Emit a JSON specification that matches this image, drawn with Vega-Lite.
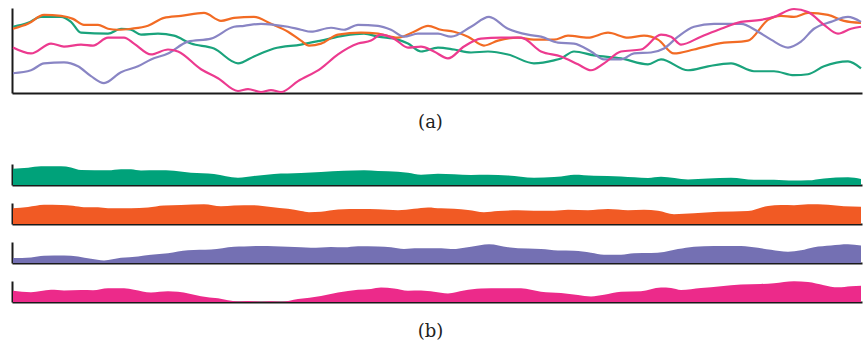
{
  "$schema": "https://vega.github.io/schema/vega-lite/v6.json",
  "padding": {"left": 8, "top": 4, "right": 9, "bottom": 0},
  "background": "white",
  "config": {
    "view": {"stroke": null},
    "axis": {"grid": false, "labels": false, "ticks": false, "domainColor": "#1a1a1a", "domainWidth": 2,
      "titleFont": "DejaVu Serif", "titleFontSize": 18, "titleFontWeight": "normal", "titleColor": "#222", "titlePadding": 20}
  },
  "datasets": {
    "d": [
      {"s":"s1","t":1,"v":67},{"s":"s1","t":16,"v":71},{"s":"s1","t":29,"v":77},{"s":"s1","t":49,"v":77},{"s":"s1","t":59,"v":72},{"s":"s1","t":69,"v":61},{"s":"s1","t":96,"v":60},{"s":"s1","t":109,"v":65},{"s":"s1","t":119,"v":64},{"s":"s1","t":129,"v":59},{"s":"s1","t":146,"v":60},{"s":"s1","t":162,"v":58},{"s":"s1","t":179,"v":50},{"s":"s1","t":202,"v":45},{"s":"s1","t":226,"v":30},{"s":"s1","t":242,"v":37},{"s":"s1","t":262,"v":45},{"s":"s1","t":289,"v":49},{"s":"s1","t":309,"v":53},{"s":"s1","t":332,"v":58},{"s":"s1","t":352,"v":60},{"s":"s1","t":366,"v":57},{"s":"s1","t":386,"v":54},{"s":"s1","t":396,"v":50},{"s":"s1","t":409,"v":42},{"s":"s1","t":426,"v":46},{"s":"s1","t":442,"v":44},{"s":"s1","t":459,"v":41},{"s":"s1","t":476,"v":42},{"s":"s1","t":496,"v":39},{"s":"s1","t":522,"v":30},{"s":"s1","t":542,"v":33},{"s":"s1","t":549,"v":35},{"s":"s1","t":562,"v":42},{"s":"s1","t":582,"v":38},{"s":"s1","t":609,"v":35},{"s":"s1","t":636,"v":29},{"s":"s1","t":649,"v":34},{"s":"s1","t":676,"v":23},{"s":"s1","t":696,"v":27},{"s":"s1","t":719,"v":30},{"s":"s1","t":742,"v":22},{"s":"s1","t":762,"v":22},{"s":"s1","t":782,"v":18},{"s":"s1","t":796,"v":19},{"s":"s1","t":812,"v":27},{"s":"s1","t":836,"v":32},{"s":"s1","t":849,"v":25},
      {"s":"s2","t":1,"v":65},{"s":"s2","t":16,"v":70},{"s":"s2","t":32,"v":79},{"s":"s2","t":49,"v":78},{"s":"s2","t":61,"v":75},{"s":"s2","t":72,"v":69},{"s":"s2","t":86,"v":69},{"s":"s2","t":96,"v":65},{"s":"s2","t":106,"v":64},{"s":"s2","t":119,"v":65},{"s":"s2","t":136,"v":68},{"s":"s2","t":152,"v":76},{"s":"s2","t":169,"v":78},{"s":"s2","t":192,"v":81},{"s":"s2","t":209,"v":73},{"s":"s2","t":222,"v":76},{"s":"s2","t":242,"v":77},{"s":"s2","t":259,"v":70},{"s":"s2","t":276,"v":62},{"s":"s2","t":289,"v":53},{"s":"s2","t":297,"v":48},{"s":"s2","t":309,"v":50},{"s":"s2","t":326,"v":59},{"s":"s2","t":349,"v":61},{"s":"s2","t":366,"v":60},{"s":"s2","t":386,"v":56},{"s":"s2","t":402,"v":62},{"s":"s2","t":416,"v":68},{"s":"s2","t":429,"v":64},{"s":"s2","t":442,"v":62},{"s":"s2","t":456,"v":57},{"s":"s2","t":472,"v":48},{"s":"s2","t":486,"v":53},{"s":"s2","t":506,"v":56},{"s":"s2","t":522,"v":54},{"s":"s2","t":542,"v":54},{"s":"s2","t":556,"v":58},{"s":"s2","t":576,"v":56},{"s":"s2","t":596,"v":61},{"s":"s2","t":616,"v":56},{"s":"s2","t":632,"v":58},{"s":"s2","t":646,"v":54},{"s":"s2","t":662,"v":40},{"s":"s2","t":682,"v":44},{"s":"s2","t":706,"v":50},{"s":"s2","t":736,"v":53},{"s":"s2","t":756,"v":74},{"s":"s2","t":769,"v":78},{"s":"s2","t":782,"v":77},{"s":"s2","t":796,"v":81},{"s":"s2","t":816,"v":79},{"s":"s2","t":832,"v":73},{"s":"s2","t":849,"v":71},
      {"s":"s3","t":1,"v":20},{"s":"s3","t":19,"v":23},{"s":"s3","t":32,"v":30},{"s":"s3","t":52,"v":31},{"s":"s3","t":66,"v":27},{"s":"s3","t":79,"v":17},{"s":"s3","t":92,"v":10},{"s":"s3","t":109,"v":21},{"s":"s3","t":126,"v":27},{"s":"s3","t":139,"v":34},{"s":"s3","t":156,"v":40},{"s":"s3","t":176,"v":52},{"s":"s3","t":199,"v":55},{"s":"s3","t":222,"v":67},{"s":"s3","t":232,"v":68},{"s":"s3","t":249,"v":70},{"s":"s3","t":262,"v":69},{"s":"s3","t":276,"v":67},{"s":"s3","t":289,"v":64},{"s":"s3","t":299,"v":62},{"s":"s3","t":319,"v":66},{"s":"s3","t":332,"v":64},{"s":"s3","t":346,"v":69},{"s":"s3","t":366,"v":68},{"s":"s3","t":379,"v":64},{"s":"s3","t":392,"v":57},{"s":"s3","t":406,"v":60},{"s":"s3","t":426,"v":60},{"s":"s3","t":439,"v":57},{"s":"s3","t":459,"v":67},{"s":"s3","t":477,"v":77},{"s":"s3","t":496,"v":65},{"s":"s3","t":516,"v":59},{"s":"s3","t":529,"v":57},{"s":"s3","t":546,"v":51},{"s":"s3","t":562,"v":50},{"s":"s3","t":579,"v":42},{"s":"s3","t":592,"v":34},{"s":"s3","t":609,"v":34},{"s":"s3","t":622,"v":40},{"s":"s3","t":639,"v":41},{"s":"s3","t":652,"v":45},{"s":"s3","t":666,"v":57},{"s":"s3","t":682,"v":67},{"s":"s3","t":702,"v":70},{"s":"s3","t":729,"v":70},{"s":"s3","t":746,"v":62},{"s":"s3","t":759,"v":54},{"s":"s3","t":776,"v":46},{"s":"s3","t":789,"v":52},{"s":"s3","t":802,"v":65},{"s":"s3","t":819,"v":72},{"s":"s3","t":836,"v":77},{"s":"s3","t":849,"v":72},
      {"s":"s4","t":1,"v":46},{"s":"s4","t":19,"v":40},{"s":"s4","t":39,"v":50},{"s":"s4","t":52,"v":47},{"s":"s4","t":69,"v":49},{"s":"s4","t":81,"v":48},{"s":"s4","t":96,"v":56},{"s":"s4","t":112,"v":56},{"s":"s4","t":122,"v":50},{"s":"s4","t":139,"v":39},{"s":"s4","t":156,"v":44},{"s":"s4","t":166,"v":42},{"s":"s4","t":189,"v":24},{"s":"s4","t":206,"v":15},{"s":"s4","t":226,"v":2},{"s":"s4","t":236,"v":4},{"s":"s4","t":249,"v":1},{"s":"s4","t":259,"v":3},{"s":"s4","t":269,"v":1},{"s":"s4","t":286,"v":12},{"s":"s4","t":309,"v":25},{"s":"s4","t":326,"v":39},{"s":"s4","t":346,"v":50},{"s":"s4","t":359,"v":53},{"s":"s4","t":369,"v":59},{"s":"s4","t":382,"v":55},{"s":"s4","t":396,"v":46},{"s":"s4","t":409,"v":47},{"s":"s4","t":422,"v":42},{"s":"s4","t":436,"v":35},{"s":"s4","t":452,"v":47},{"s":"s4","t":469,"v":55},{"s":"s4","t":489,"v":56},{"s":"s4","t":509,"v":56},{"s":"s4","t":529,"v":42},{"s":"s4","t":549,"v":37},{"s":"s4","t":566,"v":29},{"s":"s4","t":579,"v":23},{"s":"s4","t":592,"v":30},{"s":"s4","t":609,"v":42},{"s":"s4","t":629,"v":44},{"s":"s4","t":649,"v":59},{"s":"s4","t":659,"v":57},{"s":"s4","t":669,"v":49},{"s":"s4","t":689,"v":57},{"s":"s4","t":709,"v":65},{"s":"s4","t":729,"v":72},{"s":"s4","t":749,"v":74},{"s":"s4","t":762,"v":77},{"s":"s4","t":782,"v":85},{"s":"s4","t":796,"v":82},{"s":"s4","t":812,"v":69},{"s":"s4","t":826,"v":60},{"s":"s4","t":839,"v":65},{"s":"s4","t":849,"v":67}
    ]
  },
  "data": {"name": "d"},
  "spacing": 33,
  "vconcat": [
    {
      "width": 850, "height": 85,
      "mark": {"type": "line", "interpolate": "monotone", "strokeWidth": 2.2},
      "encoding": {
        "x": {"field": "t", "type": "quantitative", "scale": {"domain": [0, 850], "nice": false, "zero": false}, "axis": {"title": "(a)", "titleX": 418}},
        "y": {"field": "v", "type": "quantitative", "scale": {"domain": [0, 86], "nice": false}, "axis": {"title": null}},
        "color": {"field": "s", "type": "nominal", "scale": {"domain": ["s1","s2","s3","s4"], "range": ["#1aa37c", "#f26b24", "#8985c4", "#ec3a8f"]}, "legend": null}
      }
    },
    {
      "spacing": 18,
      "vconcat": [
        {
          "width": 850, "height": 21,
          "transform": [{"filter": "datum.s === 's1'"}],
          "mark": {"type": "area", "interpolate": "monotone", "color": "#00a27a"},
          "encoding": {
            "x": {"field": "t", "type": "quantitative", "scale": {"domain": [0, 850], "nice": false, "zero": false}, "axis": {"title": null}},
            "y": {"field": "v", "type": "quantitative", "scale": {"domain": [0, 86], "nice": false}, "axis": {"title": null}}
          }
        },
        {
          "width": 850, "height": 21,
          "transform": [{"filter": "datum.s === 's2'"}],
          "mark": {"type": "area", "interpolate": "monotone", "color": "#f15a24"},
          "encoding": {
            "x": {"field": "t", "type": "quantitative", "scale": {"domain": [0, 850], "nice": false, "zero": false}, "axis": {"title": null}},
            "y": {"field": "v", "type": "quantitative", "scale": {"domain": [0, 86], "nice": false}, "axis": {"title": null}}
          }
        },
        {
          "width": 850, "height": 21,
          "transform": [{"filter": "datum.s === 's3'"}],
          "mark": {"type": "area", "interpolate": "monotone", "color": "#7470b3"},
          "encoding": {
            "x": {"field": "t", "type": "quantitative", "scale": {"domain": [0, 850], "nice": false, "zero": false}, "axis": {"title": null}},
            "y": {"field": "v", "type": "quantitative", "scale": {"domain": [0, 86], "nice": false}, "axis": {"title": null}}
          }
        },
        {
          "width": 850, "height": 21,
          "transform": [{"filter": "datum.s === 's4'"}],
          "mark": {"type": "area", "interpolate": "monotone", "color": "#ec2a8a"},
          "encoding": {
            "x": {"field": "t", "type": "quantitative", "scale": {"domain": [0, 850], "nice": false, "zero": false}, "axis": {"title": "(b)", "titleX": 418}},
            "y": {"field": "v", "type": "quantitative", "scale": {"domain": [0, 86], "nice": false}, "axis": {"title": null}}
          }
        }
      ]
    }
  ]
}
